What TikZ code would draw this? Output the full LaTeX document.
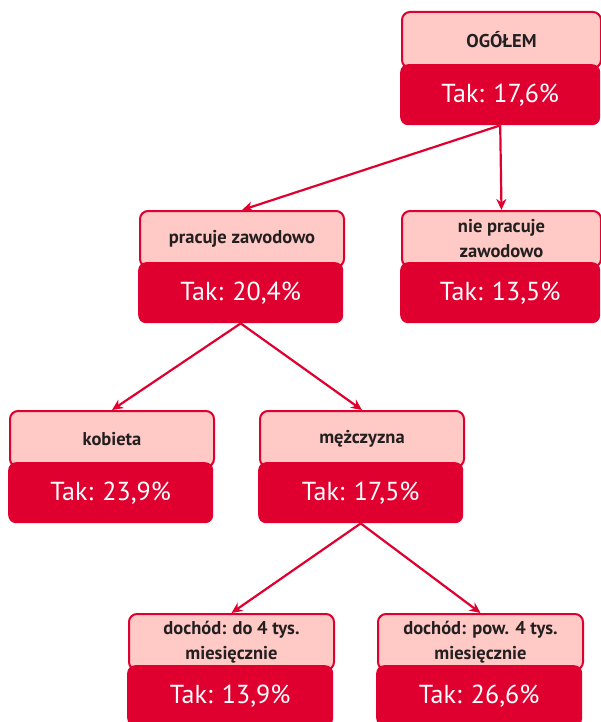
\documentclass[tikz,border=0pt]{standalone}
\usepackage{fontspec}
\setmainfont{PT Sans}
\usetikzlibrary{arrows.meta}
\definecolor{boxred}{HTML}{E0002F}
\definecolor{boxpink}{HTML}{FFCAC6}
\definecolor{labeltext}{HTML}{231F20}
\tikzset{
  labelbox/.style={draw=boxred, line width=2pt, fill=boxpink, rounded corners=8pt,
    anchor=north west, minimum height=56pt, inner sep=2pt, align=center,
    text=labeltext, font=\bfseries\fontsize{18.5}{25}\selectfont},
  valuebox/.style={fill=boxred, rounded corners=8pt, anchor=north west,
    minimum height=61pt, inner sep=0pt, text=white,
    font=\fontsize{26}{30}\selectfont},
  link/.style={draw=boxred, line width=2.2pt, -{Stealth[length=11pt,width=10pt]}}
}
\begin{document}
\begin{tikzpicture}[x=1pt,y=-1pt]
\useasboundingbox (0,0) rectangle (601,722);
% OGÓŁEM
\node[labelbox, minimum width=199pt] (og) at (401,11) {OGÓŁEM};
\node[valuebox, minimum width=200pt] (ogv) at (400,64) {Tak: 17,6\%};
% pracuje zawodowo
\node[labelbox, minimum width=204pt] (pz) at (139,210) {pracuje zawodowo};
\node[valuebox, minimum width=205pt] (pzv) at (138,262) {Tak: 20,4\%};
% nie pracuje zawodowo
\node[labelbox, minimum width=199pt] (npz) at (401,210) {nie pracuje\\zawodowo};
\node[valuebox, minimum width=200pt] (npzv) at (400,262) {Tak: 13,5\%};
% kobieta
\node[labelbox, minimum width=204pt] (kob) at (9,410) {kobieta};
\node[valuebox, minimum width=205pt] (kobv) at (8,462) {Tak: 23,9\%};
% mężczyzna
\node[labelbox, minimum width=204pt] (mez) at (259,410) {mężczyzna};
\node[valuebox, minimum width=205pt] (mezv) at (258,462) {Tak: 17,5\%};
% dochód do 4 tys.
\node[labelbox, minimum width=205pt] (dd) at (128,613) {dochód: do 4 tys.\\miesięcznie};
\node[valuebox, minimum width=206pt] (ddv) at (127,665) {Tak: 13,9\%};
% dochód pow. 4 tys.
\node[labelbox, minimum width=205pt] (dp) at (377,613) {dochód: pow. 4 tys.\\miesięcznie};
\node[valuebox, minimum width=206pt] (dpv) at (376,665) {Tak: 26,6\%};
% connectors
\draw[link] (ogv.south) -- (pz.north);
\draw[link] (ogv.south) -- (npz.north);
\draw[link] (pzv.south) -- (kob.north);
\draw[link] (pzv.south) -- (mez.north);
\draw[link] (mezv.south) -- (dd.north);
\draw[link] (mezv.south) -- (dp.north);
\end{tikzpicture}
\end{document}
